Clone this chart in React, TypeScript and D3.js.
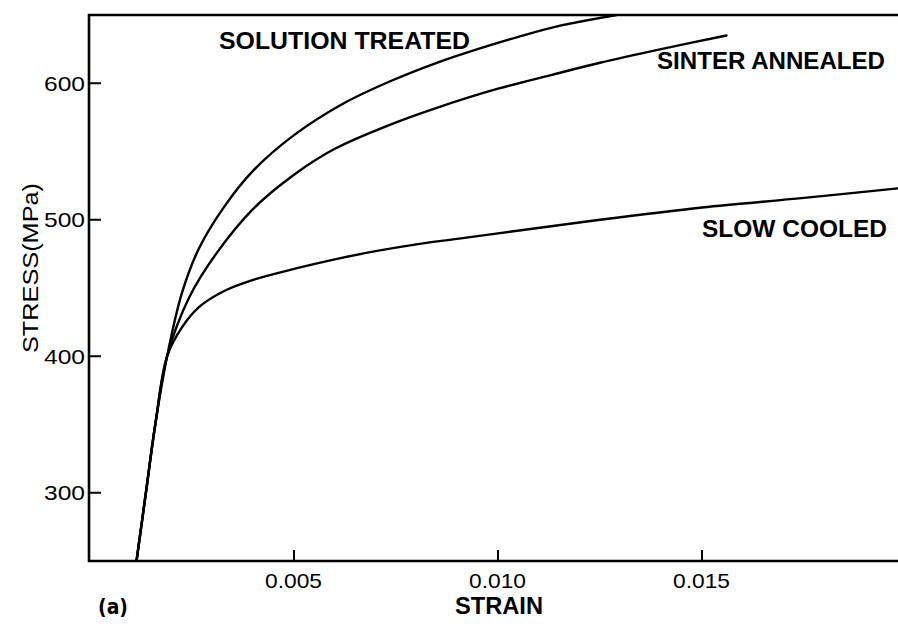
import React, { useRef, useEffect } from 'react';
import * as d3 from 'd3';

// strain / stress (MPa)
const solutionStrain = [0.00114, 0.00137, 0.0016, 0.00189, 0.00225, 0.00267, 0.0033, 0.004, 0.005, 0.0062, 0.0074, 0.0085, 0.0095, 0.0105, 0.0115, 0.0129];
const solutionStress = [250, 300, 350, 400, 446, 479, 510, 536, 562, 585, 602, 615, 625, 634, 642, 650];

const sinterStrain = [0.00114, 0.00137, 0.0016, 0.00189, 0.00243, 0.00309, 0.004, 0.005, 0.006, 0.0073, 0.0085, 0.01, 0.0113, 0.0125, 0.014, 0.0156];
const sinterStress = [250, 300, 350, 400, 443, 475, 508, 533, 552, 569, 582, 596, 606, 615, 625, 635];

const slowStrain = [0.00114, 0.00137, 0.0016, 0.00189, 0.00225, 0.00267, 0.0033, 0.004, 0.005, 0.006, 0.007, 0.008, 0.009, 0.01, 0.0125, 0.015, 0.0175, 0.0198];
const slowStress = [250, 300, 350, 400, 421, 436, 448, 456, 464, 471, 477, 482, 486, 490, 500, 509, 516, 523];

const yTicks = [300, 400, 500, 600];
const xTicks = [0.005, 0.01, 0.015];
const xTickLabels = ['0.005', '0.010', '0.015'];

const W = 898;
const H = 624;
const FONT = 'Liberation Sans, Arial, Helvetica, sans-serif';

export default function App() {
  const svgRef = useRef<SVGSVGElement>(null);

  useEffect(() => {
    if (!svgRef.current) return;
    const svg = d3.select(svgRef.current);
    svg.selectAll('*').remove();

    const x = d3.scaleLinear().domain([0, 0.02]).range([90, 906]);
    const y = d3.scaleLinear().domain([250, 650]).range([561, 15]);

    svg.append('defs')
      .append('clipPath')
      .attr('id', 'plot-clip')
      .append('rect')
      .attr('x', x(0))
      .attr('y', y(650))
      .attr('width', W - x(0))
      .attr('height', y(250) - y(650));

    const line = d3.line<[number, number]>()
      .x(d => x(d[0]))
      .y(d => y(d[1]))
      .curve(d3.curveCatmullRom.alpha(0.5));

    const series = [
      { strain: solutionStrain, stress: solutionStress },
      { strain: sinterStrain, stress: sinterStress },
      { strain: slowStrain, stress: slowStress },
    ];

    const g = svg.append('g').attr('clip-path', 'url(#plot-clip)');
    series.forEach(s => {
      g.append('path')
        .datum(s.strain.map((v, i) => [v, s.stress[i]] as [number, number]))
        .attr('d', line)
        .attr('fill', 'none')
        .attr('stroke', '#000')
        .attr('stroke-width', 2.4)
        .attr('stroke-linecap', 'round');
    });

    // frame: left, bottom, top (right side runs off the page)
    const frame = svg.append('g').attr('stroke', '#000').attr('stroke-width', 2.6).attr('fill', 'none');
    frame.append('path').attr('d', `M${W},${y(650)}H${x(0) - 1}V${y(250)}H${W}`);

    // y ticks (inward)
    yTicks.forEach(t => {
      frame.append('line')
        .attr('x1', x(0)).attr('x2', x(0) + 11)
        .attr('y1', y(t)).attr('y2', y(t))
        .attr('stroke-width', 2);
      svg.append('text')
        .attr('x', x(0) - 5)
        .attr('y', y(t))
        .attr('dy', '0.36em')
        .attr('text-anchor', 'end')
        .attr('font-family', FONT)
        .attr('font-size', 21)
        .attr('textLength', 41)
        .attr('lengthAdjust', 'spacingAndGlyphs')
        .text(t);
    });

    // x ticks (inward)
    xTicks.forEach((t, i) => {
      frame.append('line')
        .attr('x1', x(t)).attr('x2', x(t))
        .attr('y1', y(250)).attr('y2', y(250) - 11)
        .attr('stroke-width', 2);
      svg.append('text')
        .attr('x', x(t) - 29)
        .attr('y', 588)
        .attr('font-family', FONT)
        .attr('font-size', 21)
        .attr('textLength', 57)
        .attr('lengthAdjust', 'spacingAndGlyphs')
        .text(xTickLabels[i]);
    });

    const boldText = (tx: number, ty: number, str: string, size: number, len: number) =>
      svg.append('text')
        .attr('x', tx)
        .attr('y', ty)
        .attr('font-family', FONT)
        .attr('font-weight', 'bold')
        .attr('font-size', size)
        .attr('textLength', len)
        .attr('lengthAdjust', 'spacingAndGlyphs')
        .text(str);

    boldText(219, 49, 'SOLUTION TREATED', 23, 251);
    boldText(657, 69, 'SINTER ANNEALED', 23, 228);
    boldText(702, 237, 'SLOW COOLED', 23, 185);
    boldText(455, 614, 'STRAIN', 23, 88);
    boldText(98, 614, '(a)', 22, 30).attr('font-family', 'DejaVu Sans, sans-serif');

    svg.append('text')
      .attr('transform', `translate(38,268) rotate(-90)`)
      .attr('text-anchor', 'middle')
      .attr('font-family', FONT)
      .attr('font-size', 22)
      .attr('textLength', 170)
      .attr('lengthAdjust', 'spacingAndGlyphs')
      .text('STRESS(MPa)');
  }, []);

  return (
    <svg
      ref={svgRef}
      width={W}
      height={H}
      style={{ position: 'absolute', left: 0, top: 0, background: '#fff', display: 'block' }}
    />
  );
}
